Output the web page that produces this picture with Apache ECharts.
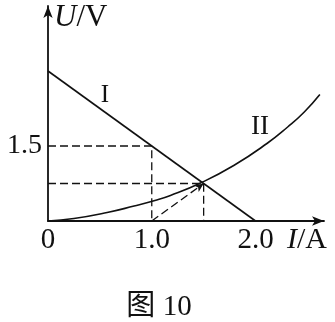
<!DOCTYPE html>
<html>
<head>
<meta charset="utf-8">
<script src="https://cdn.jsdelivr.net/npm/echarts@6/dist/echarts.min.js"></script>
<style>html,body{margin:0;padding:0;background:#fff}#c{width:335px;height:322px}</style>
</head>
<body>
<div id="c"></div>
<script>
// Data
const xTickLabels = ['0', '1.0', '2.0'];
const yTickLabels = ['1.5'];
const lineI = [[0, 3.0], [2.0, 0]];
const curveII = [[0, 0], [0.25, 0.05], [0.57, 0.17], [0.83, 0.30], [1.03, 0.41], [1.18, 0.51],
                 [1.47, 0.76], [1.79, 1.11], [2.11, 1.55], [2.31, 1.88], [2.47, 2.18], [2.62, 2.53]];
const dash15 = [[0, 1.5], [1.0, 1.5], [1.0, 0]];
const dashCross = [[0, 0.75], [1.5, 0.75], [1.5, 0]];
const arrowFrom = [1.0, 0];
const arrowTo = [1.5, 0.75];
const xMax = 2.66, yMax = 4.3;

const serif = 'Liberation Serif, Times New Roman, serif';
const chart = echarts.init(document.getElementById('c'), null, {renderer: 'canvas'});
const dashStyle = {color: '#111', width: 1.3, type: [8, 4]};
chart.setOption({
  animation: false,
  backgroundColor: '#fff',
  grid: {left: 48, right: 11, top: 6, bottom: 101},
  xAxis: {
    type: 'value', min: 0, max: xMax, interval: 1.0,
    axisLine: {lineStyle: {color: '#111', width: 1.8}, symbol: ['none', 'arrow'], symbolSize: [7, 12]},
    axisTick: {show: false}, splitLine: {show: false},
    axisLabel: {
      color: '#111', fontFamily: serif, fontSize: 29, margin: 5, showMaxLabel: false,
      formatter: v => { const s = v === 0 ? '0' : v.toFixed(1); return xTickLabels.includes(s) ? s : ''; }
    }
  },
  yAxis: {
    type: 'value', min: 0, max: yMax, interval: 1.5,
    axisLine: {lineStyle: {color: '#111', width: 1.8}, symbol: ['none', 'arrow'], symbolSize: [7, 12]},
    axisTick: {show: false}, splitLine: {show: false},
    axisLabel: {
      color: '#111', fontFamily: serif, fontSize: 28, margin: 6, showMaxLabel: false,
      formatter: v => { const s = v.toFixed(1); return yTickLabels.includes(s) ? s : ''; }
    }
  },
  series: [
    {type: 'line', data: lineI, symbol: 'none', lineStyle: {color: '#111', width: 1.6}, z: 3},
    {type: 'line', data: curveII, symbol: 'none', smooth: 0.5, lineStyle: {color: '#111', width: 1.6}, z: 3},
    {type: 'line', data: dash15, symbol: 'none', lineStyle: dashStyle},
    {type: 'line', data: dashCross, symbol: 'none', lineStyle: dashStyle,
      markLine: {
        silent: true, symbol: ['none', 'arrow'], symbolSize: [6, 9], label: {show: false},
        lineStyle: {color: '#111', width: 1.3, type: [8, 4]},
        data: [[{coord: arrowFrom}, {coord: arrowTo}]]
      }
    }
  ],
  graphic: [
    {type: 'text', left: 54, top: 2, style: {
      text: '{i|U}{n|/V}', rich: {i: {fontFamily: serif, fontStyle: 'italic', fontSize: 31, fill: '#111'}, n: {fontFamily: serif, fontSize: 31, fill: '#111'}}}},
    {type: 'text', left: 287, top: 225, style: {
      text: '{i|I}{n|/A}', rich: {i: {fontFamily: serif, fontStyle: 'italic', fontSize: 30, fill: '#111'}, n: {fontFamily: serif, fontSize: 30, fill: '#111'}}}},
    {type: 'text', x: 105, y: 95, style: {text: 'I', fontFamily: serif, fontSize: 25, fill: '#111', align: 'center', verticalAlign: 'middle'}},
    {type: 'text', x: 260, y: 127, style: {text: 'II', fontFamily: serif, fontSize: 27, fill: '#111', align: 'center', verticalAlign: 'middle'}},
    {type: 'text', x: 159, y: 307, style: {text: '图 10', fontFamily: 'Liberation Serif, Noto Sans CJK SC', fontSize: 29, fill: '#111', align: 'center', verticalAlign: 'middle'}}
  ]
});
</script>
</body>
</html>
